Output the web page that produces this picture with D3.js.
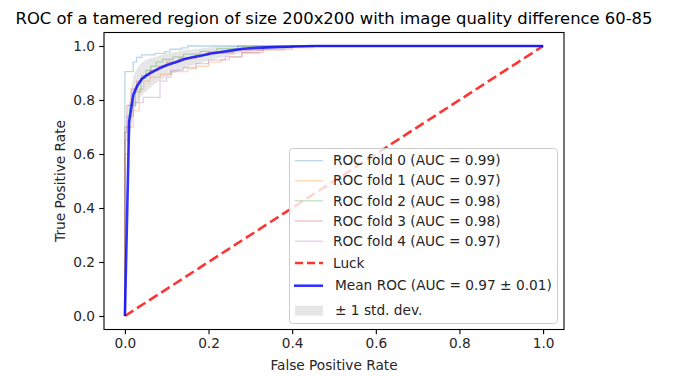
<!DOCTYPE html>
<html>
<head>
<meta charset="utf-8">
<script src="https://cdn.jsdelivr.net/npm/d3@7"></script>
<style>
  html, body { margin: 0; padding: 0; background: #fff; }
  svg { display: block; font-family: "DejaVu Sans", sans-serif; }
</style>
</head>
<body>
<svg id="chart" width="673" height="376"></svg>
<script>
// ---------------- DATA ----------------
const titleText = "ROC of a tamered region of size 200x200 with image quality difference 60-85";
const xLabel = "False Positive Rate";
const yLabel = "True Positive Rate";
const tickValues = [0.0, 0.2, 0.4, 0.6, 0.8, 1.0];
const foldLabels = [
  "ROC fold 0 (AUC = 0.99)",
  "ROC fold 1 (AUC = 0.97)",
  "ROC fold 2 (AUC = 0.98)",
  "ROC fold 3 (AUC = 0.98)",
  "ROC fold 4 (AUC = 0.97)"
];
const luckLabel = "Luck";
const meanLabel = "Mean ROC (AUC = 0.97 \u00b1 0.01)";
const stdLabel = "\u00b1 1 std. dev.";

// fold ROC step curves: [fpr, tpr]
const fold0 = [[0,0],[0,0.905],[0.02,0.905],[0.02,0.94],[0.028,0.94],[0.028,0.958],[0.04,0.958],[0.04,0.967],[0.072,0.967],[0.072,0.973],[0.096,0.973],[0.096,0.979],[0.108,0.979],[0.108,0.988],[0.135,0.988],[0.135,0.993],[0.15,0.993],[0.15,1],[1,1]];
const fold1 = [[0,0],[0,0.6],[0.008,0.6],[0.008,0.7],[0.02,0.7],[0.02,0.76],[0.034,0.76],[0.034,0.84],[0.045,0.84],[0.045,0.87],[0.06,0.87],[0.06,0.885],[0.085,0.885],[0.085,0.895],[0.11,0.895],[0.11,0.905],[0.15,0.905],[0.15,0.915],[0.17,0.915],[0.17,0.925],[0.2,0.925],[0.2,0.94],[0.23,0.94],[0.23,0.95],[0.25,0.95],[0.25,0.96],[0.28,0.96],[0.28,0.975],[0.32,0.975],[0.32,0.985],[0.38,0.985],[0.38,0.993],[0.45,0.993],[0.45,1],[1,1]];
const fold2 = [[0,0],[0,0.7],[0.01,0.7],[0.01,0.78],[0.025,0.78],[0.025,0.83],[0.038,0.83],[0.038,0.88],[0.05,0.88],[0.05,0.91],[0.062,0.91],[0.062,0.925],[0.075,0.925],[0.075,0.94],[0.09,0.94],[0.09,0.95],[0.115,0.95],[0.115,0.96],[0.14,0.96],[0.14,0.97],[0.18,0.97],[0.18,0.98],[0.22,0.98],[0.22,0.99],[0.27,0.99],[0.27,1],[1,1]];
const fold3 = [[0,0],[0,0.68],[0.005,0.68],[0.005,0.78],[0.015,0.78],[0.015,0.84],[0.028,0.84],[0.028,0.87],[0.04,0.87],[0.04,0.89],[0.06,0.89],[0.06,0.91],[0.08,0.91],[0.08,0.925],[0.1,0.925],[0.1,0.94],[0.13,0.94],[0.13,0.955],[0.17,0.955],[0.17,0.965],[0.2,0.965],[0.2,0.975],[0.26,0.975],[0.26,0.985],[0.33,0.985],[0.33,0.995],[0.4,0.995],[0.4,1],[1,1]];
const fold4 = [[0,0],[0,0.65],[0.005,0.65],[0.005,0.74],[0.02,0.74],[0.02,0.79],[0.044,0.79],[0.044,0.81],[0.084,0.81],[0.084,0.87],[0.1,0.87],[0.1,0.885],[0.11,0.885],[0.11,0.91],[0.14,0.91],[0.14,0.92],[0.17,0.92],[0.17,0.935],[0.2,0.935],[0.2,0.948],[0.24,0.948],[0.24,0.96],[0.28,0.96],[0.28,0.975],[0.33,0.975],[0.33,0.988],[0.4,0.988],[0.4,1],[1,1]];
const folds = [fold0, fold1, fold2, fold3, fold4];

// mean ROC
const meanFpr = [0, 0.0101, 0.0202, 0.0303, 0.0404, 0.0505, 0.0606, 0.0707, 0.0808, 0.0909, 0.101, 0.1212, 0.1414, 0.1616, 0.1818, 0.202, 0.2222, 0.2525, 0.2828, 0.3131, 0.3535, 0.404, 0.4545, 0.5, 1.0];
const meanTpr = [0, 0.72, 0.82, 0.855, 0.878, 0.89, 0.90, 0.908, 0.916, 0.923, 0.93, 0.94, 0.951, 0.958, 0.964, 0.971, 0.976, 0.983, 0.99, 0.993, 0.996, 0.998, 1.0, 1.0, 1.0];
const stdTpr  = [0, 0.07, 0.07, 0.065, 0.06, 0.058, 0.055, 0.05, 0.047, 0.045, 0.043, 0.038, 0.034, 0.03, 0.027, 0.024, 0.021, 0.018, 0.015, 0.012, 0.008, 0.004, 0, 0, 0];

// luck diagonal
const luck = [[0,0],[1,1]];

// ---------------- STYLE ----------------
const foldColors = ["#1f77b4", "#ff7f0e", "#2ca02c", "#d62728", "#9467bd"];
const baseFont = 13.7;
const titleFont = 16.4;

const svg = d3.select("#chart");
const L = 104, R = 564, T = 32.5, B = 329.5;
const x = d3.scaleLinear().domain([-0.05, 1.05]).range([L, R]);
const y = d3.scaleLinear().domain([-0.05, 1.05]).range([B, T]);

const line = d3.line().x(d => x(d[0])).y(d => y(d[1]));

const plot = svg.append("g");

// std band
const band = meanFpr.map((f, i) => ({
  f: f,
  lo: Math.max(meanTpr[i] - stdTpr[i], 0),
  hi: Math.min(meanTpr[i] + stdTpr[i], 1)
}));
plot.append("path")
  .attr("d", d3.area().x(d => x(d.f)).y0(d => y(d.lo)).y1(d => y(d.hi))(band))
  .attr("fill", "grey").attr("fill-opacity", 0.2).attr("stroke", "none");

// folds
folds.forEach((f, i) => {
  plot.append("path").attr("d", line(f))
    .attr("fill", "none").attr("stroke", foldColors[i])
    .attr("stroke-opacity", 0.3).attr("stroke-width", 1.3);
});

// luck
plot.append("path").attr("d", line(luck))
  .attr("fill", "none").attr("stroke", "red").attr("stroke-opacity", 0.8)
  .attr("stroke-width", 2.6).attr("stroke-dasharray", "10,4.4");

// mean
plot.append("path").attr("d", line(meanFpr.map((f, i) => [f, meanTpr[i]])))
  .attr("fill", "none").attr("stroke", "blue").attr("stroke-opacity", 0.8)
  .attr("stroke-width", 2.6).attr("stroke-linejoin", "round");

// axes
const fmt = d3.format(".1f");
const xAxis = svg.append("g").attr("transform", `translate(0,${B})`)
  .call(d3.axisBottom(x).tickValues(tickValues).tickFormat(fmt).tickSize(4.8).tickSizeOuter(0));
const yAxis = svg.append("g").attr("transform", `translate(${L},0)`)
  .call(d3.axisLeft(y).tickValues(tickValues).tickFormat(fmt).tickSize(4.8).tickSizeOuter(0));
[xAxis, yAxis].forEach(a => {
  a.select(".domain").remove();
  a.selectAll(".tick line").attr("stroke", "#000").attr("stroke-width", 1.1);
  a.selectAll(".tick text").attr("fill", "#262626").style("font-size", baseFont + "px")
    .style("font-family", "DejaVu Sans");
});
xAxis.selectAll(".tick text").attr("dy", "0.71em").attr("y", 8.5);
yAxis.selectAll(".tick text").attr("x", -9);

// frame
svg.append("rect").attr("x", L).attr("y", T).attr("width", R - L).attr("height", B - T)
  .attr("fill", "none").attr("stroke", "#000").attr("stroke-width", 1.1);

// labels
svg.append("text").attr("x", (L + R) / 2).attr("y", 24).attr("text-anchor", "middle")
  .style("font-size", titleFont + "px").attr("fill", "#000").text(titleText);
svg.append("text").attr("x", (L + R) / 2).attr("y", 370).attr("text-anchor", "middle")
  .style("font-size", baseFont + "px").attr("fill", "#262626").text(xLabel);
svg.append("text").attr("transform", `translate(65,${(T + B) / 2}) rotate(-90)`)
  .attr("text-anchor", "middle").style("font-size", baseFont + "px").attr("fill", "#262626").text(yLabel);

// legend
const lg = svg.append("g");
lg.append("rect").attr("x", 289.5).attr("y", 148.5).attr("width", 268).attr("height", 175)
  .attr("rx", 3).attr("fill", "#fff").attr("fill-opacity", 0.8)
  .attr("stroke", "#cccccc").attr("stroke-width", 1);
const entries = foldLabels.map((t, i) => ({ t, type: "fold", i }))
  .concat([{ t: luckLabel, type: "luck" }, { t: meanLabel, type: "mean" }, { t: stdLabel, type: "std" }]);
const rowY = [160.7, 180.7, 200.8, 221, 241.2, 263, 285.7, 310.7];
entries.forEach((e, k) => {
  const cy = rowY[k];
  if (e.type === "fold") {
    lg.append("line").attr("x1", 295).attr("x2", 323).attr("y1", cy).attr("y2", cy)
      .attr("stroke", foldColors[e.i]).attr("stroke-opacity", 0.3).attr("stroke-width", 1.3);
  } else if (e.type === "luck") {
    lg.append("line").attr("x1", 295).attr("x2", 323).attr("y1", cy).attr("y2", cy)
      .attr("stroke", "red").attr("stroke-opacity", 0.8).attr("stroke-width", 2.6)
      .attr("stroke-dasharray", "8,4");
  } else if (e.type === "mean") {
    lg.append("line").attr("x1", 294).attr("x2", 323).attr("y1", cy).attr("y2", cy)
      .attr("stroke", "blue").attr("stroke-opacity", 0.8).attr("stroke-width", 2.6);
  } else {
    lg.append("rect").attr("x", 295).attr("y", cy - 5).attr("width", 28).attr("height", 10)
      .attr("fill", "grey").attr("fill-opacity", 0.2);
  }
  lg.append("text").attr("x", e.type === "fold" || e.type === "luck" ? 333 : 335)
    .attr("y", cy).attr("dy", "0.35em").style("font-size", baseFont + "px").attr("fill", "#262626").text(e.t);
});
</script>
</body>
</html>
